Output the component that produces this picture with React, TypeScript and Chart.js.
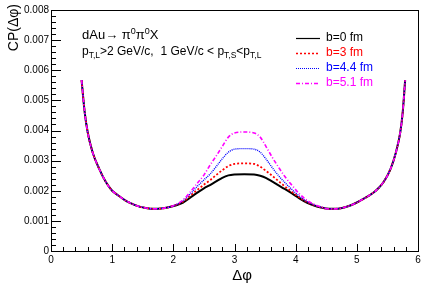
import React, { useEffect, useRef } from 'react';
import { Chart, registerables } from 'chart.js';

Chart.register(...registerables);

// Δφ sample positions
const deltaPhi = [0.50, 0.55, 0.60, 0.68, 0.79, 0.90, 1.00, 1.09, 1.20, 1.30, 1.42, 1.55, 1.68, 1.80, 1.92, 2.05, 2.16, 2.27, 2.38, 2.50, 2.60, 2.70, 2.80, 2.90, 3.00, 3.16, 3.32, 3.42, 3.52, 3.62, 3.72, 3.82, 3.94, 4.06, 4.18, 4.30, 4.42, 4.54, 4.64, 4.76, 4.88, 5.00, 5.10, 5.20, 5.28, 5.36, 5.44, 5.55, 5.64, 5.71, 5.75, 5.79];

// CP(Δφ) in units of 1e-3
const cpB0 = [5.67, 4.62, 3.94, 3.28, 2.72, 2.28, 2.00, 1.86, 1.70, 1.59, 1.49, 1.43, 1.40, 1.41, 1.45, 1.52, 1.61, 1.76, 1.92, 2.08, 2.19, 2.31, 2.43, 2.51, 2.54, 2.55, 2.54, 2.50, 2.42, 2.30, 2.18, 2.06, 1.91, 1.75, 1.61, 1.51, 1.44, 1.40, 1.40, 1.43, 1.50, 1.61, 1.72, 1.84, 1.95, 2.10, 2.30, 2.72, 3.28, 3.94, 4.60, 5.67];
const cpB3 = [5.67, 4.62, 3.94, 3.28, 2.72, 2.28, 2.00, 1.86, 1.70, 1.59, 1.49, 1.43, 1.40, 1.41, 1.45, 1.53, 1.64, 1.82, 2.01, 2.20, 2.35, 2.52, 2.68, 2.82, 2.89, 2.91, 2.89, 2.80, 2.65, 2.49, 2.32, 2.15, 1.96, 1.78, 1.63, 1.52, 1.44, 1.40, 1.40, 1.43, 1.50, 1.61, 1.72, 1.84, 1.95, 2.10, 2.30, 2.72, 3.28, 3.94, 4.60, 5.67];
const cpB44 = [5.67, 4.62, 3.94, 3.28, 2.72, 2.28, 2.00, 1.86, 1.70, 1.59, 1.49, 1.43, 1.40, 1.41, 1.45, 1.54, 1.67, 1.88, 2.12, 2.36, 2.55, 2.80, 3.06, 3.28, 3.38, 3.40, 3.38, 3.28, 3.04, 2.76, 2.50, 2.28, 2.04, 1.82, 1.65, 1.53, 1.45, 1.40, 1.40, 1.43, 1.50, 1.61, 1.72, 1.84, 1.95, 2.10, 2.30, 2.72, 3.28, 3.94, 4.60, 5.67];
const cpB51 = [5.67, 4.62, 3.94, 3.28, 2.72, 2.28, 2.00, 1.86, 1.70, 1.59, 1.49, 1.43, 1.40, 1.41, 1.45, 1.55, 1.70, 1.94, 2.22, 2.52, 2.85, 3.15, 3.47, 3.78, 3.92, 3.95, 3.92, 3.78, 3.45, 3.10, 2.78, 2.48, 2.18, 1.90, 1.69, 1.55, 1.46, 1.40, 1.40, 1.43, 1.50, 1.61, 1.72, 1.84, 1.95, 2.10, 2.30, 2.72, 3.28, 3.94, 4.60, 5.67];

const seriesLabels = ['b=0 fm', 'b=3 fm', 'b=4.4 fm', 'b=5.1 fm'];
const seriesColors = ['#000000', '#ff0000', '#0000ff', '#ff00ff'];
const yTickLabels = ['0', '0.001', '0.002', '0.003', '0.004', '0.005', '0.006', '0.007', '0.008'];
const xTickLabels = ['0', '1', '2', '3', '4', '5', '6'];

const FONT = '"Liberation Sans", Arial, Helvetica, sans-serif';

type Part = { t: string; size: number; dy?: number };

function drawParts(ctx: CanvasRenderingContext2D, parts: Part[], x: number, y: number, color: string) {
  let cx = x;
  ctx.fillStyle = color;
  ctx.textAlign = 'left';
  ctx.textBaseline = 'alphabetic';
  for (const p of parts) {
    ctx.font = `${p.size}px ${FONT}`;
    ctx.fillText(p.t, cx, y + (p.dy || 0));
    cx += ctx.measureText(p.t).width;
  }
}

const rootPlugin = {
  id: 'rootDecor',
  afterDraw(chart: any) {
    const { ctx, chartArea } = chart;
    const { left, right, top, bottom } = chartArea;
    const xs = chart.scales.x;
    const ys = chart.scales.y;
    ctx.save();
    // frame
    ctx.strokeStyle = '#000';
    ctx.lineWidth = 1;
    ctx.strokeRect(Math.round(left) + 0.5, Math.round(top) + 0.5, Math.round(right - left), Math.round(bottom - top));
    // x ticks
    ctx.beginPath();
    for (let i = 0; i <= 30; i++) {
      const v = i * 0.2;
      const px = Math.round(xs.getPixelForValue(v)) + 0.5;
      const len = i % 5 === 0 ? 7 : 4;
      ctx.moveTo(px, bottom);
      ctx.lineTo(px, bottom - len);
    }
    // y ticks
    for (let i = 0; i <= 40; i++) {
      const v = i * 0.2;
      const py = Math.round(ys.getPixelForValue(v)) + 0.5;
      const len = i % 5 === 0 ? 10 : 5;
      ctx.moveTo(left, py);
      ctx.lineTo(left + len, py);
    }
    ctx.stroke();

    // axis titles
    ctx.fillStyle = '#000';
    ctx.font = `15px ${FONT}`;
    ctx.textAlign = 'center';
    ctx.textBaseline = 'alphabetic';
    ctx.fillText('Δφ', 242, 280);

    ctx.save();
    ctx.translate(18, 4);
    ctx.rotate(-Math.PI / 2);
    ctx.font = `14px ${FONT}`;
    ctx.textAlign = 'right';
    ctx.textBaseline = 'alphabetic';
    ctx.fillText('CP(Δφ)', 0, 0);
    ctx.restore();

    // header texts
    drawParts(ctx, [
      { t: 'dAu', size: 13 },
      { t: '→ π', size: 13 },
      { t: '0', size: 9, dy: -5 },
      { t: 'π', size: 13 },
      { t: '0', size: 9, dy: -5 },
      { t: 'X', size: 13 },
    ], 82, 39, '#000');

    drawParts(ctx, [
      { t: 'p', size: 12 },
      { t: 'T,L', size: 8.5, dy: 3 },
      { t: '>2 GeV/c,  1 GeV/c < p', size: 12 },
      { t: 'T,S', size: 8.5, dy: 3 },
      { t: '<p', size: 12 },
      { t: 'T,L', size: 8.5, dy: 3 },
    ], 82, 55, '#000');

    // legend
    const dashes = [[], [2, 2], [1, 1], [4, 2, 1, 2]];
    const widths = [1.2, 1.5, 1.2, 1.5];
    const rowY = [38, 53, 68, 83];
    for (let i = 0; i < 4; i++) {
      ctx.beginPath();
      ctx.setLineDash(dashes[i]);
      ctx.lineWidth = widths[i];
      ctx.strokeStyle = seriesColors[i];
      ctx.moveTo(296, rowY[i] + 0.5);
      ctx.lineTo(320, rowY[i] + 0.5);
      ctx.stroke();
      ctx.setLineDash([]);
      ctx.font = `12px ${FONT}`;
      ctx.fillStyle = seriesColors[i];
      ctx.textAlign = 'left';
      ctx.textBaseline = 'middle';
      ctx.fillText(seriesLabels[i], 326, rowY[i]);
    }
    ctx.restore();
  },
};

export default function App() {
  const ref = useRef<HTMLCanvasElement | null>(null);
  useEffect(() => {
    document.body.style.margin = '0';
    const canvas = ref.current;
    if (!canvas) return;
    const mk = (arr: number[]) => deltaPhi.map((x, i) => ({ x, y: arr[i] }));
    const all = [cpB0, cpB3, cpB44, cpB51];
    const dashes = [[], [2, 2], [1, 1], [4, 2, 1, 2]];
    const widths = [2, 1.8, 1.4, 1.6];
    const chart = new Chart(canvas, {
      type: 'line',
      data: {
        datasets: all.map((arr, i) => ({
          label: seriesLabels[i],
          data: mk(arr),
          borderColor: seriesColors[i],
          borderWidth: widths[i],
          borderDash: dashes[i],
          pointRadius: 0,
          fill: false,
          cubicInterpolationMode: 'monotone' as const,
          order: 4 - i,
        })),
      },
      options: {
        animation: false,
        responsive: false,
        devicePixelRatio: 1,
        layout: { padding: { top: 10, right: 9, left: 0, bottom: 0 } },
        plugins: { legend: { display: false }, tooltip: { enabled: false } },
        scales: {
          x: {
            type: 'linear',
            min: 0,
            max: 6,
            grid: { display: false, drawTicks: false },
            border: { display: false },
            ticks: {
              stepSize: 1,
              autoSkip: false,
              maxRotation: 0,
              padding: 3,
              color: '#000',
              font: { family: FONT, size: 10 },
              callback: (_v: any, i: number) => xTickLabels[i],
            },
            afterFit: (s: any) => { s.height = 35; },
          },
          y: {
            type: 'linear',
            min: 0,
            max: 8,
            grid: { display: false, drawTicks: false },
            border: { display: false },
            ticks: {
              stepSize: 1,
              autoSkip: false,
              padding: 2,
              color: '#000',
              font: { family: FONT, size: 10 },
              callback: (_v: any, i: number) => yTickLabels[i],
            },
            afterFit: (s: any) => { s.width = 51; },
          },
        },
      },
      plugins: [rootPlugin],
    });
    return () => chart.destroy();
  }, []);
  return <canvas ref={ref} width={427} height={286} style={{ display: 'block', width: 427, height: 286 }} />;
}
